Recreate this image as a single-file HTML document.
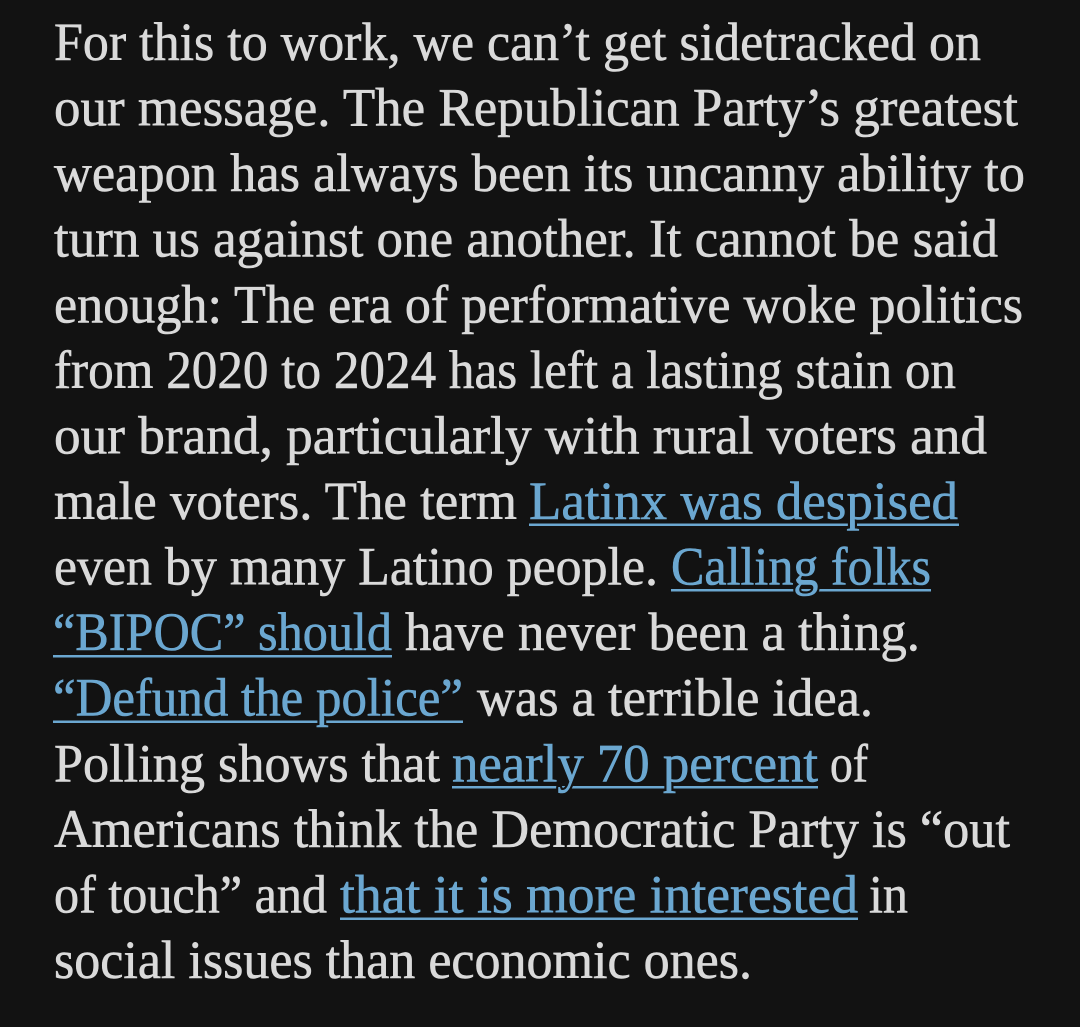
<!DOCTYPE html>
<html><head><meta charset="utf-8"><style>
html,body{margin:0;padding:0;background:#121212;}
svg{display:block;}
text{font-family:"Liberation Serif",serif;font-size:54px;}
.t{fill:#dadada;stroke:#dadada;stroke-width:0.6px;}
.l{fill:#6ba7d0;stroke:#121212;stroke-width:5px;paint-order:stroke;stroke-linejoin:round;}
.l2{fill:#6ba7d0;stroke:#6ba7d0;stroke-width:0.6px;}
.u{fill:#6ba7d0;}
</style></head><body>
<svg width="1080" height="1027" viewBox="0 0 1080 1027" xmlns="http://www.w3.org/2000/svg">
<rect width="1080" height="1027" fill="#121212"/>
<!-- underlines -->
<rect class="u" x="529" y="523.5" width="430" height="2.5"/>
<rect class="u" x="671" y="589" width="260" height="2.5"/>
<rect class="u" x="53" y="655" width="339" height="2.5"/>
<rect class="u" x="53" y="720.5" width="410" height="2.5"/>
<rect class="u" x="452" y="786" width="366" height="2.5"/>
<rect class="u" x="340" y="917.5" width="518" height="2.5"/>

<text class="t" x="54" y="60" textLength="927" lengthAdjust="spacingAndGlyphs">For this to work, we can’t get sidetracked on</text>
<text class="t" x="54" y="125.6" textLength="964" lengthAdjust="spacingAndGlyphs">our message. The Republican Party’s greatest</text>
<text class="t" x="54" y="191.1" textLength="971" lengthAdjust="spacingAndGlyphs">weapon has always been its uncanny ability to</text>
<text class="t" x="54" y="256.7" textLength="944" lengthAdjust="spacingAndGlyphs">turn us against one another. It cannot be said</text>
<text class="t" x="54" y="322.3" textLength="969" lengthAdjust="spacingAndGlyphs">enough: The era of performative woke politics</text>
<text class="t" x="54" y="387.9" textLength="902" lengthAdjust="spacingAndGlyphs">from 2020 to 2024 has left a lasting stain on</text>
<text class="t" x="54" y="453.4" textLength="933" lengthAdjust="spacingAndGlyphs">our brand, particularly with rural voters and</text>

<text class="t" x="54" y="519" textLength="463" lengthAdjust="spacingAndGlyphs">male voters. The term</text>
<text class="l" x="529" y="519" textLength="429" lengthAdjust="spacingAndGlyphs">Latinx was despised</text>
<text class="l2" x="529" y="519" textLength="429" lengthAdjust="spacingAndGlyphs">Latinx was despised</text>

<text class="t" x="54" y="584.6" textLength="604" lengthAdjust="spacingAndGlyphs">even by many Latino people.</text>
<text class="l" x="671" y="584.6" textLength="260" lengthAdjust="spacingAndGlyphs">Calling folks</text>
<text class="l2" x="671" y="584.6" textLength="260" lengthAdjust="spacingAndGlyphs">Calling folks</text>

<text class="l" x="53" y="650.1" textLength="339" lengthAdjust="spacingAndGlyphs">“BIPOC” should</text>
<text class="l2" x="53" y="650.1" textLength="339" lengthAdjust="spacingAndGlyphs">“BIPOC” should</text>
<text class="t" x="405" y="650.1" textLength="515" lengthAdjust="spacingAndGlyphs">have never been a thing.</text>

<text class="l" x="53" y="715.7" textLength="410" lengthAdjust="spacingAndGlyphs">“Defund the police”</text>
<text class="l2" x="53" y="715.7" textLength="410" lengthAdjust="spacingAndGlyphs">“Defund the police”</text>
<text class="t" x="477" y="715.7" textLength="396" lengthAdjust="spacingAndGlyphs">was a terrible idea.</text>

<text class="t" x="54" y="781.3" textLength="386" lengthAdjust="spacingAndGlyphs">Polling shows that</text>
<text class="l" x="452" y="781.3" textLength="366" lengthAdjust="spacingAndGlyphs">nearly 70 percent</text>
<text class="l2" x="452" y="781.3" textLength="366" lengthAdjust="spacingAndGlyphs">nearly 70 percent</text>
<text class="t" x="830" y="781.3" textLength="38" lengthAdjust="spacingAndGlyphs">of</text>

<text class="t" x="54" y="846.8" textLength="956" lengthAdjust="spacingAndGlyphs">Americans think the Democratic Party is “out</text>

<text class="t" x="54" y="912.4" textLength="273" lengthAdjust="spacingAndGlyphs">of touch” and</text>
<text class="l" x="340" y="912.4" textLength="518" lengthAdjust="spacingAndGlyphs">that it is more interested</text>
<text class="l2" x="340" y="912.4" textLength="518" lengthAdjust="spacingAndGlyphs">that it is more interested</text>
<text class="t" x="869" y="912.4" textLength="39" lengthAdjust="spacingAndGlyphs">in</text>

<text class="t" x="54" y="978" textLength="698" lengthAdjust="spacingAndGlyphs">social issues than economic ones.</text>
</svg>
</body></html>
